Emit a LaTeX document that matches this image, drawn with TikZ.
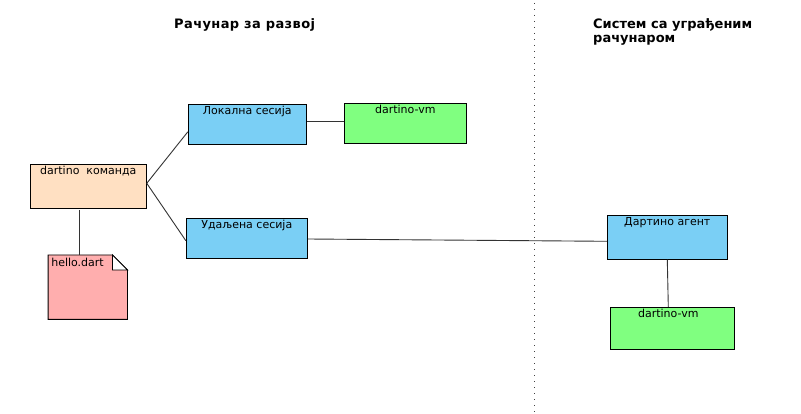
\documentclass[tikz,border=0pt]{standalone}
\usepackage{fontspec}
\setmainfont{DejaVu Sans}
\definecolor{cmdc}{RGB}{255,224,194}
\definecolor{notec}{RGB}{255,174,174}
\definecolor{sessc}{RGB}{122,207,245}
\definecolor{vmc}{RGB}{128,255,128}
\begin{document}
\begin{tikzpicture}[x=1pt,y=-1pt,
  box/.style={draw=black, line width=0.9pt, inner sep=0pt},
  lbl/.style={font=\fontsize{11}{13}\selectfont, inner sep=2.4pt, anchor=north},
  conn/.style={draw=black!80, line width=0.9pt},
  title/.style={font=\bfseries\fontsize{13}{14.3}\selectfont, align=left, inner sep=0pt}]
\useasboundingbox[fill=white] (0,0) rectangle (801,414);
% titles
\node[title, anchor=base west] (t1) at (174,29) {\addfontfeatures{LetterSpace=3}Рачунар за развој};
\node[title, anchor=north west] (t2) at (593,18.5) {Систем са уграђеним\\рачунаром};
% separator
\coordinate (dtop) at (534.5,3);
\coordinate (dbot) at (534.5,412);
\draw[black!75, line width=1pt, dash pattern=on 1pt off 5pt] (dtop) -- (dbot);
% boxes
\node[box, fill=cmdc, minimum width=116pt, minimum height=44pt,
  label={[lbl]north:dartino\ \ команда}] (cmd) at (88.3,186.3) {};
\node[box, fill=sessc, minimum width=118pt, minimum height=40pt,
  label={[lbl]north:Локална сесија}] (local) at (247.3,124.3) {};
\node[box, fill=sessc, minimum width=121pt, minimum height=40pt,
  label={[lbl]north:Удаљена сесија}] (remote) at (246.8,238.3) {};
\node[box, fill=vmc, minimum width=122pt, minimum height=40pt,
  label={[lbl]north:dartino-vm}] (vm1) at (405.3,123.3) {};
\node[box, fill=sessc, minimum width=120pt, minimum height=44pt,
  label={[lbl]north:Дартино агент}] (agent) at (667.3,237.3) {};
\node[box, fill=vmc, minimum width=124pt, minimum height=42pt,
  label={[lbl,xshift=-4pt]north:dartino-vm}] (vm2) at (672.3,328.2) {};
% note
\node[inner sep=0pt, minimum width=79pt, minimum height=64pt] (hello) at (87.8,287.2) {};
\draw[line width=0.9pt, fill=notec] (hello.north west) -- ([xshift=-15pt]hello.north east)
  -- ([yshift=-15pt]hello.north east) -- (hello.south east) -- (hello.south west) -- cycle;
\draw[line width=0.9pt, fill=white] ([xshift=-15pt]hello.north east)
  -- ([xshift=-15pt,yshift=-15pt]hello.north east) -- ([yshift=-15pt]hello.north east) -- cycle;
\node[lbl, anchor=north west, inner sep=3pt] (hellot) at (hello.north west) {hello.dart};
% connectors
\draw[conn] ([yshift=3pt]cmd.east) -- ([yshift=-7.5pt]local.west);
\draw[conn] ([yshift=3pt]cmd.east) -- ([yshift=-2.4pt]remote.west);
\draw[conn] ([yshift=3.3pt]local.east) -- ([yshift=2.3pt]vm1.west);
\draw[conn] ([yshift=-0.7pt]remote.east) -- ([yshift=-4pt]agent.west);
\draw[conn] ([xshift=-9pt,yshift=-1.5pt]cmd.south) -- ([xshift=-8.5pt]hello.north);
\draw[conn] (agent.south) -- ([xshift=-4pt]vm2.north);
\end{tikzpicture}
\end{document}
